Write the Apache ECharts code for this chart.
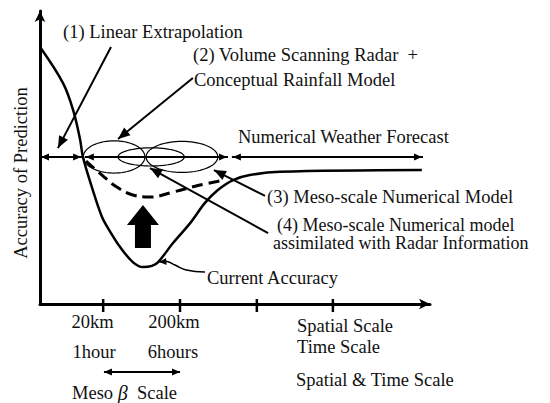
<!DOCTYPE html>
<html><head><meta charset="utf-8">
<script src="https://cdn.jsdelivr.net/npm/echarts@6/dist/echarts.min.js"></script>
<style>html,body{margin:0;padding:0;background:#fff}#c{width:550px;height:403px}</style>
</head><body><div id="c"></div>
<script>
// ---- data (chart units: x 0..100 along the scale axis, y 0..100 accuracy) ----
const currentAccuracy = [[0,87.7],[5.9,75.4],[8.5,66.2],[10.3,56.0],[11.0,50.2],[13.3,39.9],[15.9,29.7],[17.9,24.9],[20.5,19.5],[23.8,14.3],[26.4,12.6],[28.7,13.0],[30.3,14.3],[34.1,20.8],[38.5,27.6],[42.3,34.5],[45.6,38.9],[49.5,42.3],[53.8,44.0],[61.5,45.1],[97.9,45.7]];
const assimilatedAccuracy = [[11.8,48.8],[15.9,44.0],[19.7,39.9],[23.8,37.2],[28.2,36.5],[34.1,38.2],[41.0,40.6],[47.4,42.3]];
const rangeSegments = [[0,10.8,50.2],[11.5,48.2,50.2],[49.2,98.2,50.2]];   // [xStart, xEnd, y]
const methodEllipses = [[19.0,50.2,7.9,5.5],[28.5,50.2,8.5,3.1],[36.4,50.2,9.2,5.3]]; // [cx, cy, rx, ry]
const calloutArrows = [[18.2,87.7,4.6,53.2],[39.2,77.1,20.0,56.3],[57.7,36.9,44.6,45.7],[58.5,24.2,28.2,46.4]]; // [x1,y1,x2,y2]
const currentPointer = [[42.3,10.9],[37.5,11.6],[34.6,13.3],[32.6,14.5],[30.6,14.3]];
const improvementArrow = [[26.4,33.8,19.1]]; // [x, tipY, baseY]
const scaleTicks = [16.2,35.9,55.6,75.1];
const mesoBetaRange = [[16.4,35.9,-23.2]];
const spatialLabels = ['20km','200km'];
const timeLabels = ['1hour','6hours'];

const FONT = 'Liberation Serif';
const FS = 18.5;
const INK = '#000';

function head(tip, from, len, hw) {
  const dx = tip[0]-from[0], dy = tip[1]-from[1];
  const d = Math.sqrt(dx*dx+dy*dy) || 1;
  const ux = dx/d, uy = dy/d;
  const bx = tip[0]-ux*len, by = tip[1]-uy*len;
  return [[tip[0],tip[1]],[bx-uy*hw, by+ux*hw],[bx+uy*hw, by-ux*hw]];
}

const chart = echarts.init(document.getElementById('c'), null, {renderer:'svg'});

function txt(x, y, s, extra) {
  return Object.assign({type:'text', x:x, y:y, silent:true,
    style:Object.assign({text:s, fontFamily:FONT, fontSize:FS, fill:'#111', textVerticalAlign:'middle'}, extra||{})});
}

const graphics = [
  txt(63,32,'(1) Linear Extrapolation'),
  txt(193,55,'(2) Volume Scanning Radar  +'),
  txt(194,80,'Conceptual Rainfall Model'),
  txt(238,137,'Numerical Weather Forecast'),
  txt(267,197,'(3) Meso-scale Numerical Model'),
  txt(277,225,'(4) Meso-scale Numerical model',{fontSize:18}),
  txt(273,243,'assimilated with Radar Information',{fontSize:18}),
  txt(207,278,'Current Accuracy'),
  txt(92.5,322,spatialLabels[0],{textAlign:'center'}),
  txt(174,322,spatialLabels[1],{textAlign:'center'}),
  txt(94,352,timeLabels[0],{textAlign:'center'}),
  txt(173,352,timeLabels[1],{textAlign:'center'}),
  txt(297,326,'Spatial Scale'),
  txt(297,347,'Time Scale'),
  txt(296,380,'Spatial & Time Scale'),
  {type:'text', x:72, y:393, silent:true, style:{
    text:'Meso {b|β}  Scale', fontFamily:FONT, fontSize:FS, fill:'#111', textVerticalAlign:'middle',
    rich:{b:{fontFamily:FONT, fontSize:20, fontStyle:'italic', fill:'#111'}}}},
  {type:'text', x:21, y:173, rotation:Math.PI/2, silent:true, style:{
    text:'Accuracy of Prediction', fontFamily:FONT, fontSize:FS, fill:'#111', textAlign:'center', textVerticalAlign:'middle'}}
];

const option = {
  animation:false,
  backgroundColor:'#fff',
  grid:{left:40, right:120, top:11, bottom:99},
  xAxis:{type:'value', min:0, max:100, splitLine:{show:false}, axisTick:{show:false}, axisLabel:{show:false},
    axisLine:{lineStyle:{color:INK, width:3}, symbol:['none','arrow'], symbolSize:[8,11]}},
  yAxis:{type:'value', min:0, max:100, splitLine:{show:false}, axisTick:{show:false}, axisLabel:{show:false},
    axisLine:{lineStyle:{color:INK, width:3}, symbol:['none','arrow'], symbolSize:[8,11]}},
  graphic: graphics,
  series:[
    {type:'line', name:'Current Accuracy', data:currentAccuracy, symbol:'none', smooth:0.35,
      lineStyle:{color:INK, width:2.5}, z:5},
    {type:'line', name:'Assimilated', data:assimilatedAccuracy, symbol:'none', smooth:0.4,
      lineStyle:{color:INK, width:3, type:[11,6]}, z:5},
    {type:'custom', data:rangeSegments, silent:true, z:6, renderItem:function(p, api){
      const a = api.coord([api.value(0), api.value(2)]), b = api.coord([api.value(1), api.value(2)]);
      return {type:'group', children:[
        {type:'line', shape:{x1:a[0],y1:a[1],x2:b[0],y2:b[1]}, style:{stroke:INK, lineWidth:2}},
        {type:'polygon', shape:{points:head([a[0]+1,a[1]],[b[0],b[1]],8,3.5)}, style:{fill:INK}},
        {type:'polygon', shape:{points:head([b[0]-1,b[1]],[a[0],a[1]],8,3.5)}, style:{fill:INK}}
      ]};
    }},
    {type:'custom', data:mesoBetaRange, silent:true, z:6, renderItem:function(p, api){
      const a = api.coord([api.value(0), api.value(2)]), b = api.coord([api.value(1), api.value(2)]);
      return {type:'group', children:[
        {type:'line', shape:{x1:a[0],y1:a[1],x2:b[0],y2:b[1]}, style:{stroke:INK, lineWidth:2}},
        {type:'polygon', shape:{points:head(a,b,8,3.5)}, style:{fill:INK}},
        {type:'polygon', shape:{points:head(b,a,8,3.5)}, style:{fill:INK}}
      ]};
    }},
    {type:'custom', data:methodEllipses, silent:true, z:7, renderItem:function(p, api){
      const c = api.coord([api.value(0), api.value(1)]);
      const s = api.size([api.value(2), api.value(3)]);
      const pts = [];
      for (let i=0;i<72;i++){ const t=i/72*Math.PI*2; pts.push([c[0]+s[0]*Math.cos(t), c[1]+s[1]*Math.sin(t)]); }
      return {type:'polygon', shape:{points:pts}, style:{fill:'none', stroke:INK, lineWidth:1.2}};
    }},
    {type:'custom', data:calloutArrows, silent:true, z:8, renderItem:function(p, api){
      const a = api.coord([api.value(0), api.value(1)]), b = api.coord([api.value(2), api.value(3)]);
      return {type:'group', children:[
        {type:'line', shape:{x1:a[0],y1:a[1],x2:b[0],y2:b[1]}, style:{stroke:INK, lineWidth:2}},
        {type:'polygon', shape:{points:head(b,a,12,5)}, style:{fill:INK}}
      ]};
    }},
    {type:'custom', data:[[0]], silent:true, z:8, renderItem:function(p, api){
      const pts = currentPointer.map(function(d){return api.coord(d);});
      const n = pts.length;
      return {type:'group', children:[
        {type:'polyline', shape:{points:pts, smooth:0.5}, style:{fill:'none', stroke:INK, lineWidth:1.6}},
        {type:'polygon', shape:{points:head(pts[n-1],pts[n-2],7,3.5)}, style:{fill:INK}}
      ]};
    }},
    {type:'custom', data:improvementArrow, silent:true, z:8, renderItem:function(p, api){
      const t = api.coord([api.value(0), api.value(1)]), b = api.coord([api.value(0), api.value(2)]);
      const hl = 20, hw = 16, sw = 8;
      return {type:'polygon', shape:{points:[[t[0],t[1]],[t[0]+hw,t[1]+hl],[t[0]+sw,t[1]+hl],[t[0]+sw,b[1]],[t[0]-sw,b[1]],[t[0]-sw,t[1]+hl],[t[0]-hw,t[1]+hl]]},
        style:{fill:INK}};
    }},
    {type:'custom', data:scaleTicks.map(function(v){return [v,0];}), silent:true, z:9, renderItem:function(p, api){
      const c = api.coord([api.value(0), api.value(1)]);
      return {type:'line', shape:{x1:c[0],y1:c[1]-5,x2:c[0],y2:c[1]+8}, style:{stroke:INK, lineWidth:2.5}};
    }}
  ]
};
chart.setOption(option);
</script></body></html>
